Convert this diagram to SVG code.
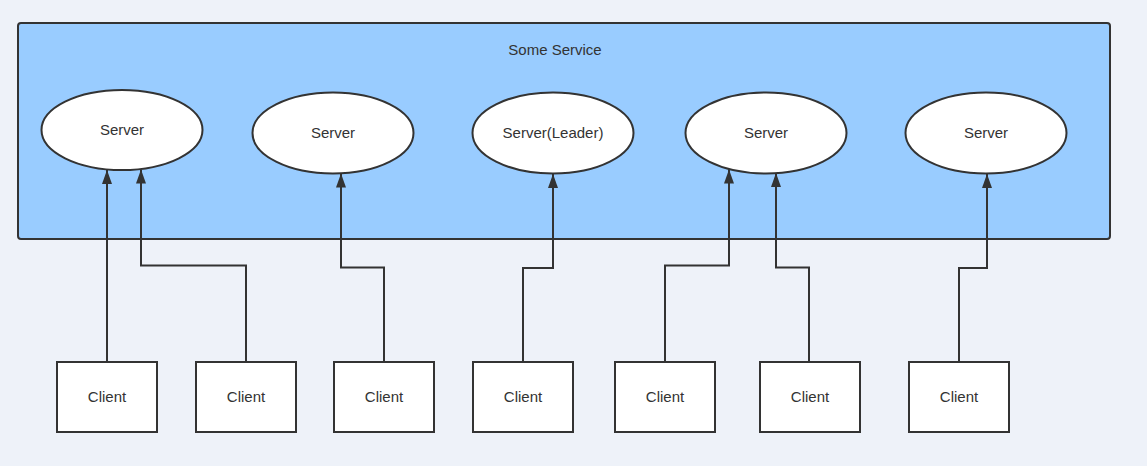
<svg xmlns="http://www.w3.org/2000/svg" width="1147" height="466" viewBox="0 0 1147 466">
<defs>
<style>
.lbl{font-family:"Liberation Sans",Arial,sans-serif;font-size:15px;fill:#333;text-anchor:middle}
.srv{fill:#fff;stroke:#333;stroke-width:2}
.cli{fill:#fff;stroke:#333;stroke-width:2}
.con{fill:none;stroke:#333;stroke-width:2}
</style>
<marker id="arr" markerWidth="14" markerHeight="10" refX="14" refY="5" viewBox="0 0 14 10" markerUnits="userSpaceOnUse" orient="auto">
<path d="M0,0 L14,5 L0,10 Z" fill="#333"/>
</marker>
</defs>
<rect width="1147" height="466" fill="#eef2f9"/>
<g id="service">
<rect x="18" y="23" width="1092" height="216" rx="3" fill="#99ccff" stroke="#333" stroke-width="2"/>
<text class="lbl" x="555" y="55">Some Service</text>
</g>
<g id="server1"><ellipse class="srv" cx="122" cy="130" rx="80.5" ry="40"/><text class="lbl" x="122" y="135">Server</text></g>
<g id="server2"><ellipse class="srv" cx="333" cy="133" rx="80.5" ry="40.5"/><text class="lbl" x="333" y="138">Server</text></g>
<g id="server3"><ellipse class="srv" cx="553" cy="133" rx="80.5" ry="40.5"/><text class="lbl" x="553" y="138">Server(Leader)</text></g>
<g id="server4"><ellipse class="srv" cx="766" cy="133" rx="80.5" ry="40.5"/><text class="lbl" x="766" y="138">Server</text></g>
<g id="server5"><ellipse class="srv" cx="986" cy="133" rx="80.5" ry="40.5"/><text class="lbl" x="986" y="138">Server</text></g>
<g id="client1"><rect class="cli" x="57" y="362" width="100" height="70"/><text class="lbl" x="107" y="402">Client</text></g>
<g id="client2"><rect class="cli" x="196" y="362" width="100" height="70"/><text class="lbl" x="246" y="402">Client</text></g>
<g id="client3"><rect class="cli" x="334" y="362" width="100" height="70"/><text class="lbl" x="384" y="402">Client</text></g>
<g id="client4"><rect class="cli" x="473" y="362" width="100" height="70"/><text class="lbl" x="523" y="402">Client</text></g>
<g id="client5"><rect class="cli" x="615" y="362" width="100" height="70"/><text class="lbl" x="665" y="402">Client</text></g>
<g id="client6"><rect class="cli" x="760" y="362" width="100" height="70"/><text class="lbl" x="810" y="402">Client</text></g>
<g id="client7"><rect class="cli" x="909" y="362" width="100" height="70"/><text class="lbl" x="959" y="402">Client</text></g>
<g id="connectors">
<path class="con" marker-end="url(#arr)" d="M107,361 L107,170"/>
<path class="con" marker-end="url(#arr)" d="M246,361 L246,265.5 L141,265.5 L141,169.5"/>
<path class="con" marker-end="url(#arr)" d="M384,361 L384,267.5 L341,267.5 L341,173.5"/>
<path class="con" marker-end="url(#arr)" d="M523,361 L523,268 L553,268 L553,174"/>
<path class="con" marker-end="url(#arr)" d="M665,361 L665,265.5 L729,265.5 L729,169.5"/>
<path class="con" marker-end="url(#arr)" d="M809,361 L809,267.5 L776,267.5 L776,173"/>
<path class="con" marker-end="url(#arr)" d="M959,361 L959,268 L987,268 L987,174"/>
</g>
</svg>
